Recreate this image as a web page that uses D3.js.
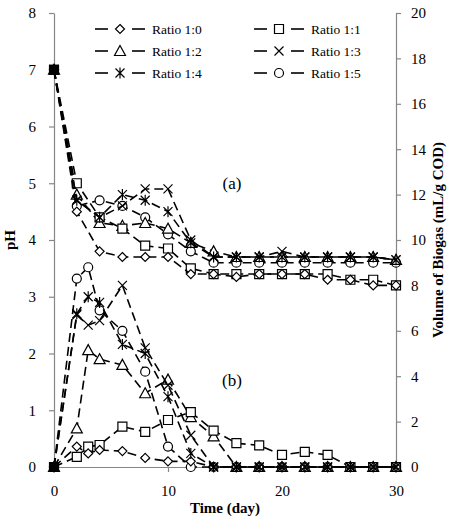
<!DOCTYPE html>
<html>
<head>
<meta charset="utf-8">
<script src="https://cdn.jsdelivr.net/npm/d3@7"></script>
<style>
  body { margin: 0; background: #fff; }
  text { font-family: "Liberation Serif", "Times New Roman", serif; }
</style>
</head>
<body>
<div id="chart"></div>
<script>
// pH readings (a), left axis
const phDays = [0, 2, 4, 6, 8, 10, 12, 14, 16, 18, 20, 22, 24, 26, 28, 30];
const ph10 = [7, 4.5, 3.8, 3.7, 3.7, 3.7, 3.4, 3.4, 3.35, 3.4, 3.4, 3.4, 3.3, 3.3, 3.2, 3.2];
const ph11 = [7, 5.0, 4.4, 4.2, 3.9, 3.85, 3.5, 3.4, 3.4, 3.4, 3.4, 3.4, 3.4, 3.3, 3.3, 3.2];
const ph12 = [7, 4.8, 4.3, 4.25, 4.3, 4.2, 3.95, 3.8, 3.7, 3.7, 3.7, 3.7, 3.7, 3.7, 3.7, 3.65];
const ph13 = [7, 4.7, 4.4, 4.6, 4.9, 4.9, 4.0, 3.7, 3.7, 3.7, 3.8, 3.7, 3.7, 3.7, 3.7, 3.65];
const ph14 = [7, 4.7, 4.4, 4.8, 4.7, 4.5, 3.95, 3.7, 3.7, 3.7, 3.7, 3.7, 3.7, 3.7, 3.7, 3.65];
const ph15 = [7, 4.6, 4.7, 4.6, 4.4, 4.1, 3.8, 3.6, 3.6, 3.6, 3.6, 3.6, 3.6, 3.6, 3.6, 3.6];

// biogas volume (b), mL/g COD, right axis
const gasDays = [0, 2, 3, 4, 6, 8, 10, 12, 14, 16, 18, 20, 22, 24, 26, 28, 30];
const gas10 = [0, 0.9, 0.6, 0.75, 0.7, 0.4, 0.25, 0.25, 0, 0, 0, 0, 0, 0, 0, 0, 0];
const gas11 = [0, 0.45, 0.9, 0.97, 1.78, 1.55, 2.07, 2.42, 1.6, 1.05, 0.95, 0.53, 0.67, 0.53, 0, 0, 0];
const gas12 = [0, 1.7, 5.15, 4.75, 4.5, 3.25, 3.85, 2.2, 1.35, 0, 0, 0, 0, 0, 0, 0, 0];
const gas13 = [0, 6.7, 6.25, 6.45, 8.0, 5.25, 3.6, 1.4, 0, 0, 0, 0, 0, 0, 0, 0, 0];
const gas14 = [0, 6.75, 7.5, 7.25, 5.4, 5.0, 3.1, 0.6, 0, 0, 0, 0, 0, 0, 0, 0, 0];
const gas15 = [0, 8.3, 8.8, 6.9, 6.0, 4.2, 0.9, 0, 0, 0, 0, 0, 0, 0, 0, 0, 0];

const seriesNames = ["Ratio 1:0", "Ratio 1:1", "Ratio 1:2", "Ratio 1:3", "Ratio 1:4", "Ratio 1:5"];
const markerTypes = ["diamond", "square", "triangle", "x", "asterisk", "circle"];
const phSeries = [ph10, ph11, ph12, ph13, ph14, ph15];
const gasSeries = [gas10, gas11, gas12, gas13, gas14, gas15];
// draw open markers first so the crosses stay visible on top
const drawOrder = [5, 2, 1, 0, 3, 4];

const xTicks = [0, 10, 20, 30];
const leftTicks = [0, 1, 2, 3, 4, 5, 6, 7, 8];
const rightTicks = [0, 2, 4, 6, 8, 10, 12, 14, 16, 18, 20];

const W = 452, H = 518;
const margin = { top: 13, right: 56, bottom: 51, left: 54 };

const svg = d3.select('#chart').append('svg')
  .attr('width', W)
  .attr('height', H);

svg.append('rect').attr('width', W).attr('height', H).attr('fill', '#fff');

const x = d3.scaleLinear().domain([0, 30]).range([margin.left, W - margin.right]);
const yL = d3.scaleLinear().domain([0, 8]).range([H - margin.bottom, margin.top]);
const yR = d3.scaleLinear().domain([0, 20]).range([H - margin.bottom, margin.top]);

const axisColor = '#868686';

function styleAxis(g) {
  g.selectAll('path, line').attr('stroke', axisColor).attr('stroke-width', 1.2);
  g.selectAll('text').attr('font-size', 15).attr('fill', '#000')
    .attr('font-family', '"Liberation Serif", serif');
}

svg.append('g')
  .attr('transform', `translate(0,${H - margin.bottom})`)
  .call(d3.axisBottom(x).tickValues(xTicks).tickSize(5).tickSizeOuter(0).tickPadding(13))
  .call(styleAxis);

svg.append('g')
  .attr('transform', `translate(${margin.left},0)`)
  .call(d3.axisLeft(yL).tickValues(leftTicks).tickSize(5).tickSizeOuter(0).tickPadding(13))
  .call(styleAxis);

svg.append('g')
  .attr('transform', `translate(${W - margin.right},0)`)
  .call(d3.axisRight(yR).tickValues(rightTicks).tickSize(5).tickSizeOuter(0).tickPadding(10))
  .call(styleAxis);

// axis titles
svg.append('text')
  .attr('transform', `translate(15,${(margin.top + H - margin.bottom) / 2}) rotate(-90)`)
  .attr('text-anchor', 'middle')
  .attr('font-weight', 'bold')
  .attr('font-size', 15)
  .text('pH');

svg.append('text')
  .attr('transform', `translate(443,${(margin.top + H - margin.bottom) / 2}) rotate(-90)`)
  .attr('text-anchor', 'middle')
  .attr('font-weight', 'bold')
  .attr('font-size', 15)
  .text('Volume of Biogas (mL/g COD)');

svg.append('text')
  .attr('x', (margin.left + W - margin.right) / 2)
  .attr('y', 513)
  .attr('text-anchor', 'middle')
  .attr('font-weight', 'bold')
  .attr('font-size', 15)
  .text('Time (day)');

// panel labels
svg.append('text').attr('x', 232).attr('y', 189).attr('text-anchor', 'middle')
  .attr('font-size', 17).text('(a)');
svg.append('text').attr('x', 232).attr('y', 386).attr('text-anchor', 'middle')
  .attr('font-size', 17).text('(b)');

// marker shapes
function markerPath(type) {
  const s = 4.5;
  switch (type) {
    case 'diamond': return `M0,${-s}L${s},0L0,${s}L${-s},0Z`;
    case 'square': return `M${-s},${-s}H${s}V${s}H${-s}Z`;
    case 'triangle': return `M0,${-s - 1}L${s + 1},${s}L${-s - 1},${s}Z`;
    case 'x': return `M${-s},${-s}L${s},${s}M${s},${-s}L${-s},${s}`;
    case 'asterisk': return `M${-s},${-s}L${s},${s}M${s},${-s}L${-s},${s}M0,${-s - 1}V${s + 1}`;
    case 'circle': return `M${s},0A${s},${s} 0 1,1 ${-s},0A${s},${s} 0 1,1 ${s},0Z`;
  }
}

const isOpen = t => !(t === 'x' || t === 'asterisk');
const lineStyle = { stroke: '#000', width: 1.6, dash: '9,5' };

function drawSeries(days, values, yScale, type) {
  const pts = days.map((d, i) => ({ d, v: values[i] }));
  const line = d3.line().x(p => x(p.d)).y(p => yScale(p.v));
  const grp = svg.append('g');
  grp.append('path')
    .datum(pts)
    .attr('d', line)
    .attr('fill', 'none')
    .attr('stroke', lineStyle.stroke)
    .attr('stroke-width', lineStyle.width)
    .attr('stroke-dasharray', lineStyle.dash);
  grp.selectAll('.mk')
    .data(pts)
    .join('path')
    .attr('class', 'mk')
    .attr('transform', p => `translate(${x(p.d)},${yScale(p.v)})`)
    .attr('d', markerPath(type))
    .attr('fill', isOpen(type) ? '#fff' : 'none')
    .attr('stroke', '#000')
    .attr('stroke-width', 1.2);
}

drawOrder.forEach(i => {
  drawSeries(phDays, phSeries[i], yL, markerTypes[i]);
  drawSeries(gasDays, gasSeries[i], yR, markerTypes[i]);
});

// day 0: all six markers pile up into a solid block
svg.selectAll('.start')
  .data([yL(phSeries[0][0]), yR(gasSeries[0][0])])
  .join('rect')
  .attr('class', 'start')
  .attr('x', x(0) - 5).attr('y', d => d - 5)
  .attr('width', 10).attr('height', 10)
  .attr('fill', '#000');

// legend
const legend = svg.append('g');
seriesNames.forEach((name, i) => {
  const col = i % 2, row = Math.floor(i / 2);
  const lx = 95 + col * 159, ly = 29 + row * 22;
  const g = legend.append('g').attr('transform', `translate(${lx},${ly})`);
  [[0, 13], [37, 50]].forEach(([a, b]) => {
    g.append('line')
      .attr('x1', a).attr('x2', b).attr('y1', 0).attr('y2', 0)
      .attr('stroke', '#000').attr('stroke-width', lineStyle.width);
  });
  g.append('path')
    .attr('transform', 'translate(25,0)')
    .attr('d', markerPath(markerTypes[i]))
    .attr('fill', isOpen(markerTypes[i]) ? '#fff' : 'none')
    .attr('stroke', '#000')
    .attr('stroke-width', 1.2);
  g.append('text')
    .attr('x', 57).attr('y', 5)
    .attr('font-size', 13.5)
    .text(name);
});
</script>
</body>
</html>
